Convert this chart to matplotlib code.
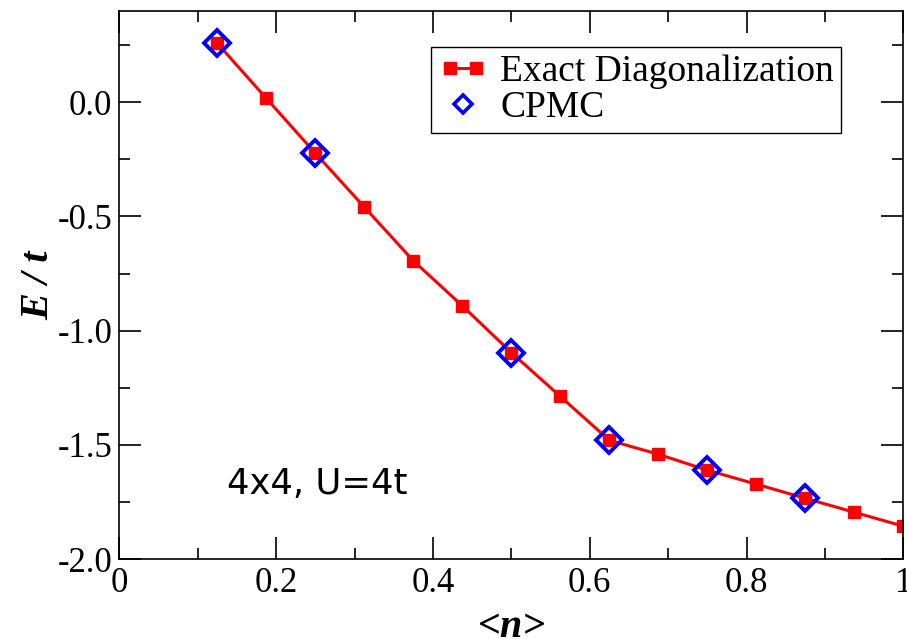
import matplotlib.pyplot as plt
from matplotlib.lines import Line2D
from matplotlib.legend_handler import HandlerLine2D
from matplotlib.ticker import MultipleLocator

# exact diagonalization, n = N/16 electrons on the 4x4 lattice
n_ed = [2/16, 3/16, 4/16, 5/16, 6/16, 7/16, 8/16, 9/16, 10/16,
        11/16, 12/16, 13/16, 14/16, 15/16, 16/16]
e_ed = [0.258, 0.017, -0.223, -0.459, -0.694, -0.891, -1.096, -1.288, -1.480,
        -1.541, -1.611, -1.672, -1.734, -1.795, -1.856]

# constrained-path Monte Carlo
n_cpmc = [2/16, 4/16, 8/16, 10/16, 12/16, 14/16]
e_cpmc = [0.258, -0.223, -1.096, -1.480, -1.611, -1.734]

xticks = [0, 0.2, 0.4, 0.6, 0.8, 1.0]
xtick_labels = ["0", "0.2", "0.4", "0.6", "0.8", "1"]
yticks = [0.0, -0.5, -1.0, -1.5, -2.0]
ytick_labels = ["0.0", "-0.5", "-1.0", "-1.5", "-2.0"]

serif = "Liberation Serif"

fig = plt.figure(figsize=(9.07, 6.39), dpi=100)
ax = fig.add_axes([0.1315, 0.125, 0.8645, 0.858])

ax.plot(n_ed, e_ed, color="red", lw=2.2, marker="s", ms=8, zorder=2)
ax.plot(n_cpmc, e_cpmc, ls="none", marker="D", ms=13, mfc="none",
        mec="blue", mew=2.8, zorder=3)

ax.set_xlim(0, 1)
ax.set_ylim(-2.0, 0.4)
ax.set_xticks(xticks, xtick_labels)
ax.set_yticks(yticks, ytick_labels)
ax.xaxis.set_minor_locator(MultipleLocator(0.1))
ax.yaxis.set_minor_locator(MultipleLocator(0.25))
ax.tick_params(which="both", direction="in", top=True, right=True,
               labelsize=25, width=1.2)
ax.tick_params(which="major", length=16)
ax.tick_params(which="minor", length=8)
ax.tick_params(axis="x", pad=6)
ax.tick_params(axis="y", pad=5)
for lab in ax.get_xticklabels() + ax.get_yticklabels():
    lab.set_fontfamily(serif)
for sp in ax.spines.values():
    sp.set_linewidth(1.2)

ax.set_xlabel("<n>", fontsize=29, fontfamily=serif, fontstyle="italic",
              fontweight="bold", labelpad=6)
ax.set_ylabel("E / t", fontsize=29, fontfamily=serif, fontstyle="italic",
              fontweight="bold", labelpad=0)

ax.text(0.137, -1.716, "4x4, U=4t", fontsize=25.5, fontfamily="DejaVu Sans",
        va="baseline")

h_ed = Line2D([], [], color="red", lw=2.2, marker="s", ms=8)
h_cpmc = Line2D([], [], ls="none", marker="D", ms=9, mfc="none",
                mec="blue", mew=2.6)
leg = ax.legend([h_ed, h_cpmc], ["Exact Diagonalization", "CPMC"],
                loc="upper right", bbox_to_anchor=(0.921, 0.934),
                borderaxespad=0, prop={"family": serif, "size": 27},
                fancybox=False, edgecolor="black", framealpha=1,
                borderpad=0.2, handlelength=1.3, labelspacing=0.05,
                handletextpad=0.35,
                handler_map={h_ed: HandlerLine2D(numpoints=2),
                             h_cpmc: HandlerLine2D(numpoints=1)})
leg.get_frame().set_linewidth(1.0)

fig.savefig("out.png", dpi=100)
